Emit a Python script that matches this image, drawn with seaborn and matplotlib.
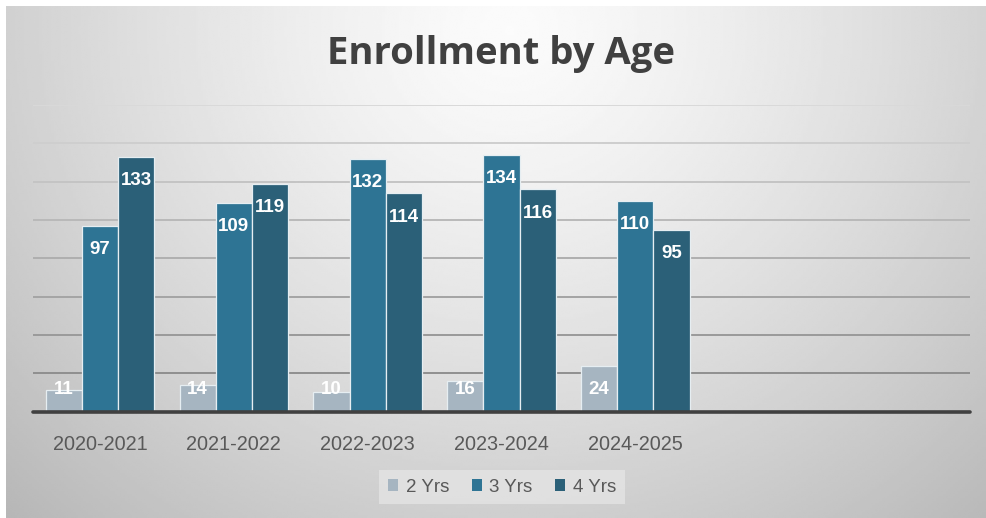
import numpy as np
import pandas as pd
import matplotlib
matplotlib.use("Agg")
import matplotlib.pyplot as plt
from matplotlib.patches import Patch
import seaborn as sns

# Enrollment counts per school year and age group
years = ["2020-2021", "2021-2022", "2022-2023", "2023-2024", "2024-2025"]
age_groups = ["2 Yrs", "3 Yrs", "4 Yrs"]
two_yrs = [11, 14, 10, 16, 24]
three_yrs = [97, 109, 132, 134, 110]
four_yrs = [133, 119, 114, 116, 95]
y_ticks = [0, 20, 40, 60, 80, 100, 120, 140, 160]

colors = {"2 Yrs": "#a6b5c1", "3 Yrs": "#2e7494", "4 Yrs": "#2b6078"}

df = pd.DataFrame({
    "year": years * 3,
    "age": [a for a in age_groups for _ in years],
    "count": two_yrs + three_yrs + four_yrs,
})

sns.set_theme(style="white")
plt.rcParams["font.family"] = ["Liberation Sans", "DejaVu Sans"]

W, H = 986, 518
fig = plt.figure(figsize=(W / 100, H / 100), dpi=100)
fig.patch.set_facecolor("white")

# soft radial gray background panel
bg = fig.add_axes([6 / W, 0, (W - 6) / W, (H - 6) / H])
bg.set_axis_off()
gx, gy = np.meshgrid(np.linspace(6, W, 400), np.linspace(6, H, 220))
r = np.sqrt(((gx - 510) / 600) ** 2 + ((gy - 30) / 560) ** 2)
shade = 0.985 - 0.21 * np.clip(r, 0, 1.3) ** 1.3
bg.imshow(shade, cmap="gray", vmin=0, vmax=1, aspect="auto",
          extent=[0, 1, 0, 1], origin="upper", interpolation="bilinear")
bg.set_xlim(0, 1)
bg.set_ylim(0, 1)

ax = fig.add_axes([33 / W, (H - 411.5) / H, 937 / W, (411.5 - 105) / H])
ax.patch.set_alpha(0)

# gridlines, light at the top and darker toward the base
grid_shades = np.linspace(0.52, 0.85, len(y_ticks))
for val, g in zip(y_ticks[1:], grid_shades[1:]):
    ax.axhline(val, color=str(g), lw=1.4, zorder=0)

sns.barplot(data=df, x="year", y="count", hue="age", order=years,
            hue_order=age_groups, palette=colors, width=0.81,
            edgecolor="#e6eef2", linewidth=0.9, saturation=1,
            legend=False, ax=ax, zorder=2)

ax.set_xlim(-0.5, 6.5)
ax.set_ylim(0, 160)
ax.axhline(0, color="#404040", lw=2.6, zorder=3, clip_on=False)

for cont in ax.containers:
    for p in cont:
        h = p.get_height()
        xc = p.get_x() + p.get_width() / 2
        ax.text(xc, max(h - 12.5, 11.3), f"{int(round(h))}", ha="center",
                va="center", color="white", fontsize=13.5, fontweight="bold",
                zorder=4)

ax.set_xlabel("")
ax.set_ylabel("")
ax.set_yticks([])
ax.tick_params(axis="x", length=0, pad=17, labelsize=14.3, labelcolor="#595959")
for s in ax.spines.values():
    s.set_visible(False)

fig.text(501 / W, 1 - 64 / H, "Enrollment by Age", ha="center", va="baseline",
         fontsize=27.5, fontweight="bold", color="#404040",
         family=["Open Sans", "DejaVu Sans"])

handles = [Patch(facecolor=colors[a], edgecolor="none") for a in age_groups]
leg = fig.legend(handles, age_groups, loc="center", ncol=3,
                 bbox_to_anchor=(502 / W, 1 - 487 / H), frameon=True,
                 fontsize=13.5, handlelength=0.55, handleheight=0.55,
                 handletextpad=0.4, columnspacing=1.2, borderpad=0.45,
                 fancybox=False)
leg.get_frame().set_facecolor("#e4e4e4")
leg.get_frame().set_edgecolor("none")
for t in leg.get_texts():
    t.set_color("#595959")

fig.savefig("out.png", dpi=100)
